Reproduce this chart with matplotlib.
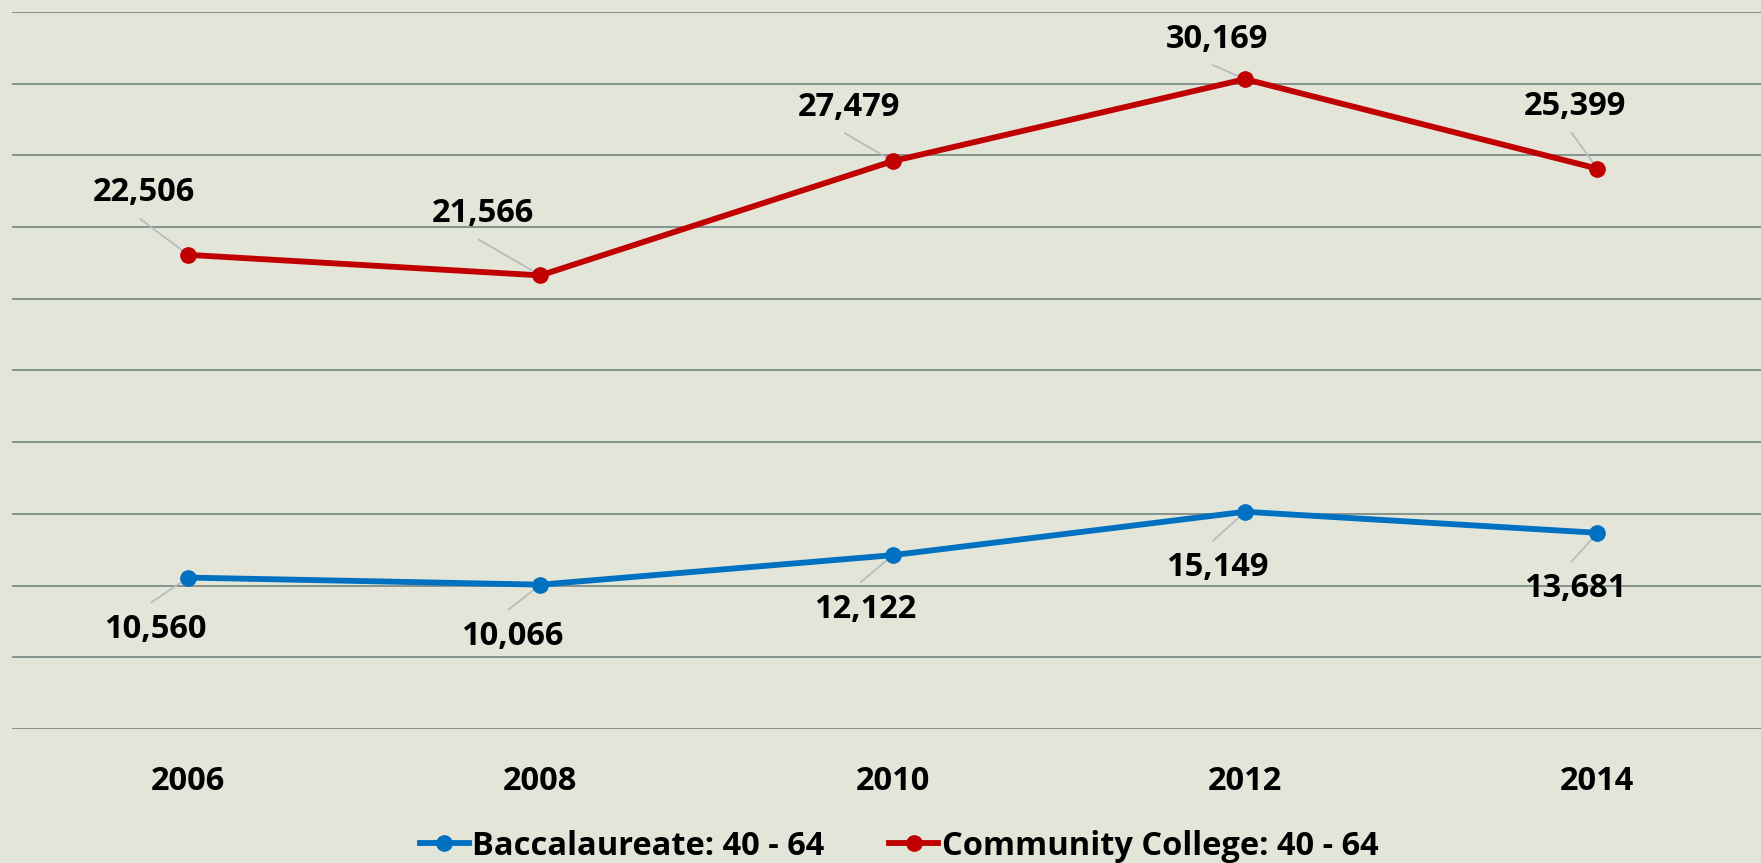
import matplotlib
matplotlib.use("Agg")
import matplotlib.pyplot as plt
import numpy as np

# data (stacked line chart: community college is drawn on top of baccalaureate)
years = ["2006", "2008", "2010", "2012", "2014"]
bacc = [10560, 10066, 12122, 15149, 13681]
cc = [22506, 21566, 27479, 30169, 25399]
series_names = ["Baccalaureate: 40 - 64", "Community College: 40 - 64"]

# label offsets in pixels (dx, dy), dy positive = up
bacc_offsets = [(-33, -52), (-28, -52), (-28, -54), (-28, -56), (-22, -56)]
cc_offsets = [(-44, 62), (-58, 62), (-44, 54), (-28, 40), (-22, 62)]

plt.rcParams['font.family'] = ['Open Sans', 'DejaVu Sans']

BG = "#E3E5D9"
GRID = "#7D8E88"
BLUE = "#0070C0"
RED = "#C00000"
LEADER = "#B4BEBE"
FS = 23.5

fig = plt.figure(figsize=(17.61, 8.63), dpi=100, facecolor=BG)
ax = fig.add_axes([12 / 1761, 134 / 863, 1761.5 / 1761, 717 / 863])
ax.set_facecolor(BG)

x = np.arange(len(years))
stacked = np.array(bacc) + np.array(cc)

ax.plot(x, bacc, "o-", color=BLUE, lw=4.2, markersize=11, label=series_names[0], zorder=3)
ax.plot(x, stacked, "o-", color=RED, lw=4.2, markersize=11, label=series_names[1], zorder=3)

px = 0.72  # points per pixel at 100 dpi


def add_labels(values, ys, offsets):
    for i, (v, y) in enumerate(zip(values, ys)):
        dx, dy = offsets[i]
        ax.annotate(f"{v:,}", xy=(x[i], y), xytext=(dx * px, dy * px),
                    textcoords="offset points", ha="center", va="center",
                    fontsize=FS, fontweight="bold", color="black", zorder=4)
        # leader line: leaves just under/over the label centre, ends at the point
        ly = -26 if dy > 0 else 27
        ax.annotate("", xy=(x[i], y), xytext=((dx - 4) * px, (dy + ly) * px),
                    textcoords="offset points",
                    arrowprops=dict(arrowstyle="-", color=LEADER, lw=1.3,
                                    shrinkA=0, shrinkB=0), zorder=2)


add_labels(bacc, bacc, bacc_offsets)
add_labels(cc, stacked, cc_offsets)

ax.set_xlim(-0.5, len(years) - 0.5)
ax.set_ylim(0, 50000)
ax.set_yticks(np.arange(0, 50001, 5000))
ax.set_yticklabels([])
ax.set_xticks(x)
ax.set_xticklabels(years, fontsize=FS, fontweight="bold")
ax.tick_params(axis="both", length=0)
ax.tick_params(axis="x", pad=26)
ax.grid(axis="y", color=GRID, lw=1.3)
ax.set_axisbelow(True)
for s in ax.spines.values():
    s.set_visible(False)

fig.legend(loc="center", bbox_to_anchor=(899 / 1761, 1 - 846 / 863), ncol=2,
           frameon=False, handlelength=1.5, handletextpad=0.1, columnspacing=2.0,
           prop=dict(size=FS, weight="bold"))

fig.savefig("out.png", dpi=100, facecolor=BG)
